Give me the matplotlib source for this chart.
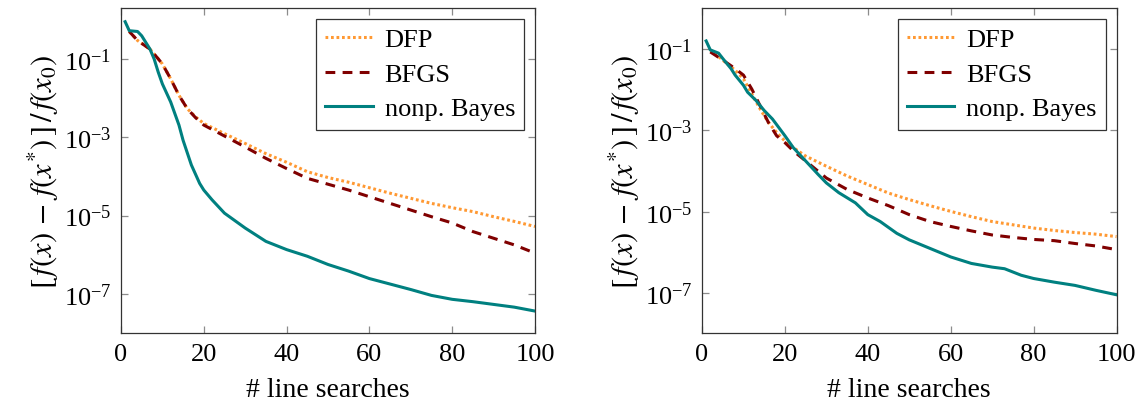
import numpy as np
import matplotlib
matplotlib.use("Agg")
import matplotlib.pyplot as plt

# ---------------- data (log10 of relative error) ----------------
# Left panel
l_bayes_x = [1, 2, 4, 5, 7, 8, 9, 10, 12, 14, 15, 17, 19, 20, 22, 25, 30, 35, 40, 45,
             50, 55, 60, 65, 70, 75, 80, 85, 90, 95, 100]
l_bayes_log = [-0.05, -0.28, -0.30, -0.41, -0.75, -1.0, -1.34, -1.64, -2.1, -2.69, -3.08,
               -3.71, -4.18, -4.35, -4.6, -4.94, -5.32, -5.66, -5.87, -6.04, -6.25, -6.42,
               -6.61, -6.75, -6.89, -7.04, -7.14, -7.2, -7.27, -7.34, -7.44]

l_qn_x = [2, 4, 7, 9, 10, 12, 14, 16, 18, 20, 25, 30, 35, 40, 45, 50, 55, 60, 65, 70,
          75, 80, 85, 90, 95, 100]
l_dfp_log = [-0.3, -0.53, -0.75, -1.0, -1.13, -1.51, -1.93, -2.27, -2.48, -2.65, -2.91,
             -3.16, -3.42, -3.64, -3.88, -4.03, -4.15, -4.29, -4.43, -4.56, -4.69, -4.8,
             -4.9, -5.03, -5.15, -5.28]
l_bfgs_log = [-0.3, -0.53, -0.75, -1.0, -1.13, -1.51, -1.93, -2.27, -2.5, -2.69, -2.97,
              -3.25, -3.54, -3.8, -4.05, -4.2, -4.35, -4.52, -4.69, -4.86, -5.03, -5.19,
              -5.41, -5.58, -5.75, -5.96]

# Right panel
r_bayes_x = [1, 2, 4, 5, 7, 8, 10, 11, 13, 15, 17, 20, 22, 25, 28, 30, 33, 37, 40, 43,
             47, 50, 55, 60, 65, 70, 73, 77, 80, 85, 90, 95, 100]
r_bayes_log = [-0.8, -1.02, -1.1, -1.23, -1.48, -1.64, -1.89, -2.06, -2.26, -2.51, -2.72,
               -3.13, -3.42, -3.75, -4.08, -4.29, -4.53, -4.78, -5.07, -5.24, -5.53,
               -5.69, -5.9, -6.11, -6.27, -6.36, -6.4, -6.56, -6.64, -6.73, -6.81, -6.93,
               -7.04]

r_qn_x = [2, 5, 8, 10, 12, 14, 16, 18, 20, 22, 25, 30, 35, 40, 45, 50, 55, 60, 65, 70,
          75, 80, 85, 90, 95, 100]
r_dfp_log = [-1.02, -1.27, -1.52, -1.73, -2.1, -2.47, -2.8, -3.05, -3.26, -3.42, -3.63,
             -3.88, -4.12, -4.33, -4.54, -4.7, -4.85, -4.99, -5.12, -5.24, -5.32, -5.4,
             -5.46, -5.51, -5.55, -5.61]
r_bfgs_log = [-1.07, -1.27, -1.48, -1.64, -1.98, -2.39, -2.8, -3.13, -3.3, -3.5, -3.75,
              -4.17, -4.45, -4.66, -4.85, -5.07, -5.24, -5.36, -5.47, -5.57, -5.63, -5.68,
              -5.71, -5.78, -5.84, -5.93]

labels = ["DFP", "BFGS", "nonp. Bayes"]
ytick_vals = [1e-1, 1e-3, 1e-5, 1e-7]
xtick_vals = [0, 20, 40, 60, 80, 100]

# ---------------- style ----------------
plt.rcParams['font.family'] = ['Liberation Serif', 'DejaVu Serif']
plt.rcParams['mathtext.fontset'] = 'stix'

C_DFP = '#ff9933'
C_BFGS = '#800000'
C_BAYES = '#008080'

fig = plt.figure(figsize=(11.44, 4.10), dpi=100)
W, H = 1144, 410
axL = fig.add_axes([121 / W, 1 - 334 / H, 414 / W, 325 / H])
axR = fig.add_axes([702 / W, 1 - 334 / H, 414.5 / W, 325 / H])

panels = [
    (axL, l_qn_x, l_dfp_log, l_bfgs_log, l_bayes_x, l_bayes_log, (1e-8, 10 ** 0.30)),
    (axR, r_qn_x, r_dfp_log, r_bfgs_log, r_bayes_x, r_bayes_log, (10 ** -7.98, 10 ** 0.01)),
]

for ax, qx, dfp, bfgs, bx, bay, ylim in panels:
    ax.plot(qx, 10 ** np.array(dfp), color=C_DFP, lw=2.2, ls=(0, (0.9, 0.9)),
            label=labels[0])
    ax.plot(qx, 10 ** np.array(bfgs), color=C_BFGS, lw=2.2, ls=(0, (3.2, 2.4)),
            label=labels[1])
    ax.plot(bx, 10 ** np.array(bay), color=C_BAYES, lw=2.2, ls='-', label=labels[2])
    ax.set_yscale('log')
    ax.set_xlim(0, 100)
    ax.set_ylim(*ylim)
    ax.set_yticks(ytick_vals)
    ax.yaxis.set_minor_locator(matplotlib.ticker.NullLocator())
    ax.set_xticks(xtick_vals)
    ax.tick_params(axis='both', which='major', direction='in', length=5, width=0.9,
                   color='#8c8c8c', top=True, right=True, labelsize=19, pad=7)
    for s in ax.spines.values():
        s.set_linewidth(0.9)
        s.set_color('#333333')
    ax.set_xlabel('# line searches', fontsize=20, labelpad=9)
    ax.set_ylabel(r'$[\,f(x)\,-\,f(x^{*})\,]\,/\,f(x_0)$', fontsize=22, labelpad=2)
    leg = ax.legend(loc='upper right', fontsize=19, frameon=True, fancybox=False,
                    edgecolor='black', handlelength=1.8, borderpad=0.35,
                    labelspacing=0.42, handletextpad=0.45, borderaxespad=0.4)
    leg.get_frame().set_linewidth(0.9)

fig.savefig('out.png', dpi=100)
